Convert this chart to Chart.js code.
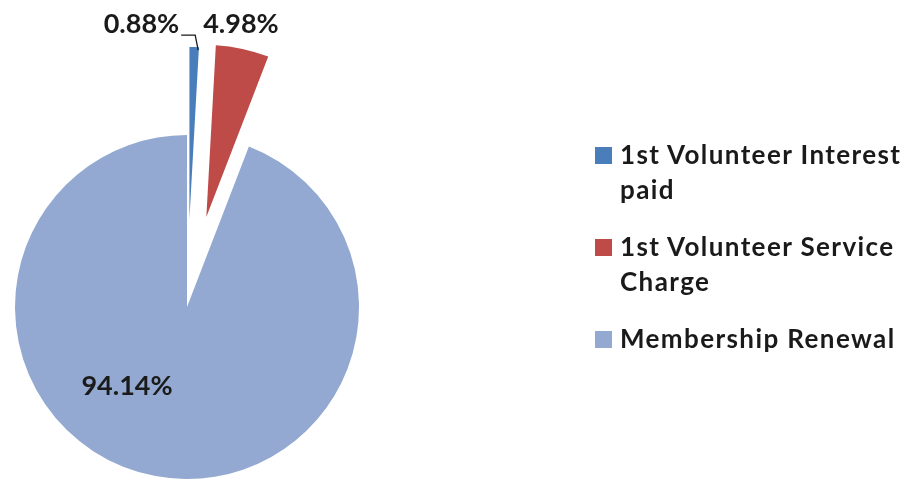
<!DOCTYPE html>
<html>
<head>
<meta charset="utf-8">
<script src="https://cdn.jsdelivr.net/npm/chart.js@4"></script>
<style>
  html, body { margin: 0; padding: 0; background: #fff; }
  #wrap { position: relative; width: 907px; height: 482px; overflow: hidden; }
  #c { position: absolute; left: 0; top: 0; }
  #legend { position: absolute; left: 595px; top: 137px; font-family: Lato, sans-serif; font-weight: bold; font-size: 26px; letter-spacing: 1.4px; color: #1a1a1a; }
  .item { position: relative; padding-left: 25px; line-height: 35px; margin-bottom: 22px; width: 312px; }
  .sw { position: absolute; left: 0; top: 10px; width: 17px; height: 17px; }
</style>
</head>
<body>
<div id="wrap">
  <canvas id="c" width="907" height="482"></canvas>
  <div id="legend"></div>
</div>
<script>
const categories = ['1st Volunteer Interest paid', '1st Volunteer Service Charge', 'Membership Renewal'];
const legendLines = [['1st Volunteer Interest', 'paid'], ['1st Volunteer Service', 'Charge'], ['Membership Renewal']];
const values = [0.88, 4.98, 94.14];
const valueLabels = ['0.88%', '4.98%', '94.14%'];
const colors = ['#4A7EBB', '#BE4B48', '#93A9D1'];
const explode = [88, 92, 0];   // pixels each slice is pulled out

// legend
const lg = document.getElementById('legend');
categories.forEach((c, i) => {
  const d = document.createElement('div');
  d.className = 'item';
  d.innerHTML = '<span class="sw" style="background:' + colors[i] + '"></span>' + legendLines[i].join('<br>');
  lg.appendChild(d);
});

const RADIUS = 172;

// Explode slices: move each arc's centre along its mid angle
const explodePlugin = {
  id: 'explode',
  afterDatasetUpdate(chart, args) {
    const meta = chart.getDatasetMeta(args.index);
    meta.data.forEach((arc, i) => {
      const mid = (arc.startAngle + arc.endAngle) / 2;
      arc.x += Math.cos(mid) * explode[i];
      arc.y += Math.sin(mid) * explode[i];
    });
  }
};

const labelsPlugin = {
  id: 'valueLabels',
  afterDatasetsDraw(chart) {
    const ctx = chart.ctx;
    const meta = chart.getDatasetMeta(0);
    ctx.save();
    ctx.fillStyle = '#1a1a1a';
    ctx.textBaseline = 'alphabetic';
    const pts = meta.data.map(a => {
      const mid = (a.startAngle + a.endAngle) / 2;
      return { a, mid, ox: a.x + Math.cos(mid) * a.outerRadius, oy: a.y + Math.sin(mid) * a.outerRadius };
    });
    // small slice labels with leader line
    const p0 = pts[0];
    const base = p0.oy - 14;
    ctx.strokeStyle = '#1a1a1a';
    ctx.lineWidth = 1.3;
    ctx.beginPath();
    ctx.moveTo(p0.ox + 4, p0.oy + 3);
    ctx.lineTo(p0.ox + 1, base + 2);
    ctx.lineTo(p0.ox - 13, base + 2);
    ctx.stroke();
    ctx.font = 'bold 27px Lato, sans-serif';
    ctx.textAlign = 'right';
    ctx.fillText(valueLabels[0], p0.ox - 15, base);
    ctx.textAlign = 'left';
    ctx.fillText(valueLabels[1], p0.ox + 9, base);
    // big slice label
    const a2 = pts[2].a;
    const ang = a2.startAngle + (a2.endAngle - a2.startAngle) * 0.578;
    ctx.textAlign = 'center';
    ctx.textBaseline = 'middle';
    ctx.fillText(valueLabels[2], a2.x + Math.cos(ang) * a2.outerRadius * 0.58, a2.y + Math.sin(ang) * a2.outerRadius * 0.58);
    ctx.restore();
  }
};

new Chart(document.getElementById('c'), {
  type: 'pie',
  data: {
    labels: categories,
    datasets: [{
      data: values,
      backgroundColor: colors,
      borderWidth: 0,
      hoverOffset: 0,
      radius: RADIUS,
      clip: false
    }]
  },
  options: {
    responsive: false,
    animation: false,
    layout: { padding: { left: 0, right: 533, top: 132, bottom: 0 } },
    plugins: { legend: { display: false }, tooltip: { enabled: false } },
    events: []
  },
  plugins: [explodePlugin, labelsPlugin]
});
</script>
</body>
</html>
